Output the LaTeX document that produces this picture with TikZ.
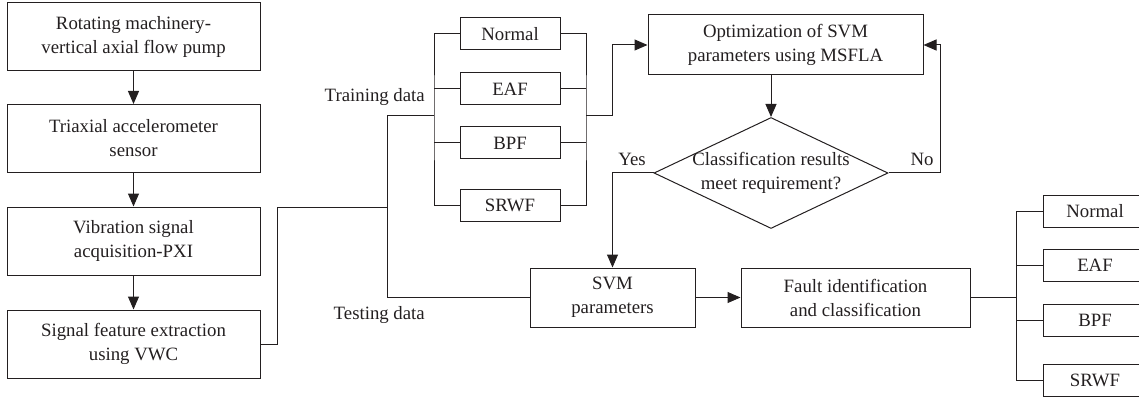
\documentclass[tikz,border=0pt]{standalone}
\usepackage{fontspec}
\setmainfont{Liberation Serif}
\usetikzlibrary{arrows.meta,shapes.geometric}
\definecolor{ink}{HTML}{231F20}
\begin{document}
\begin{tikzpicture}[x=1pt,y=-1pt,
  every node/.style={font=\fontsize{18.8}{24}\selectfont, text=ink},
  line/.style={draw=ink, line width=1pt},
  arr/.style={line, -{Triangle[length=13pt,width=11pt]}},
  bigbox/.style={line, rectangle, align=center, inner sep=0pt, minimum width=253pt, minimum height=68pt},
  smallbox/.style={line, rectangle, inner sep=0pt, minimum width=100pt, minimum height=32pt},
  procbox/.style={line, rectangle, align=center, inner sep=0pt, minimum height=59pt}]
\useasboundingbox (0,0) rectangle (1139,398);
% left column
\node[bigbox] (b1) at (133.5,36.5) {Rotating machinery-\\vertical axial flow pump};
\node[bigbox] (b2) at (133.5,138.5) {Triaxial accelerometer\\sensor};
\node[bigbox] (b3) at (133.5,241) {Vibration signal\\acquisition-PXI};
\node[bigbox] (b4) at (133.5,344) {Signal feature extraction\\using VWC};
\draw[arr] (b1.south) -- (b2.north);
\draw[arr] (b2.south) -- (b3.north);
\draw[arr] (b3.south) -- (b4.north);
% training classes
\node[smallbox] (n1) at (510,34) {Normal};
\node[smallbox] (n2) at (510,89) {EAF};
\node[smallbox] (n3) at (510,143) {BPF};
\node[smallbox] (n4) at (510,205) {SRWF};
\coordinate (j1) at (387,207);
\coordinate (trn) at (387,116);
\coordinate (lbus) at (434,116);
\coordinate (rbus) at (586,116);
\draw[line] (b4.east) -- ++(17,0) |- (j1);
\draw[line] (lbus) -- (trn);
\node[anchor=east, inner sep=0pt] (trlab) at (425,97) {Training data};
\node[anchor=east, inner sep=0pt] (telab) at (425,315) {Testing data};
\draw[line] (n1.west) -| (lbus) |- (n4.west);
\draw[line] (lbus |- n2.west) -- (n2.west);
\draw[line] (lbus |- n3.west) -- (n3.west);
\draw[line] (n1.east) -| (rbus) |- (n4.east);
\draw[line] (rbus |- n2.east) -- (n2.east);
\draw[line] (rbus |- n3.east) -- (n3.east);
% optimization
\node[procbox, minimum width=275pt, minimum height=60pt] (opt) at (785.5,45) {Optimization of SVM\\parameters using MSFLA};
\draw[arr] (rbus) -- ++(26,0) |- (opt.west);
\node[line, diamond, inner sep=0pt, minimum width=234pt, minimum height=111pt] (dec) at (771,173) {};
\node[align=center, inner sep=0pt] (dectxt) at (dec.center) {Classification results\\meet requirement?};
\draw[arr] (opt.south -| dec.north) -- (dec.north);
\coordinate (nocorner) at (940,173);
\draw[arr] (dec.east) -- (nocorner) |- (opt.east);
\node[inner sep=0pt] (yes) at (632,159) {Yes};
\node[inner sep=0pt] (no) at (922,159) {No};
% SVM parameters and fault identification
\node[procbox, minimum width=165pt] (svm) at (612.5,297.5) {SVM\\parameters};
\node[procbox, minimum width=229pt] (fault) at (855.5,297.5) {Fault identification\\and classification};
\draw[arr] (dec.west) -| (svm.north);
\draw[line] (trn) |- (svm.west);
\draw[arr] (svm.east) -- (fault.west);
% result classes
\node[smallbox, minimum width=104pt] (r1) at (1095,211) {Normal};
\node[smallbox, minimum width=104pt] (r2) at (1095,265) {EAF};
\node[smallbox, minimum width=104pt] (r3) at (1095,320) {BPF};
\node[smallbox, minimum width=104pt] (r4) at (1095,380.5) {SRWF};
\coordinate (fbus) at (1016,297.5);
\draw[line] (fault.east) -- (fbus);
\draw[line] (r1.west) -| (fbus) |- (r4.west);
\draw[line] (fbus |- r2.west) -- (r2.west);
\draw[line] (fbus |- r3.west) -- (r3.west);
\end{tikzpicture}
\end{document}
